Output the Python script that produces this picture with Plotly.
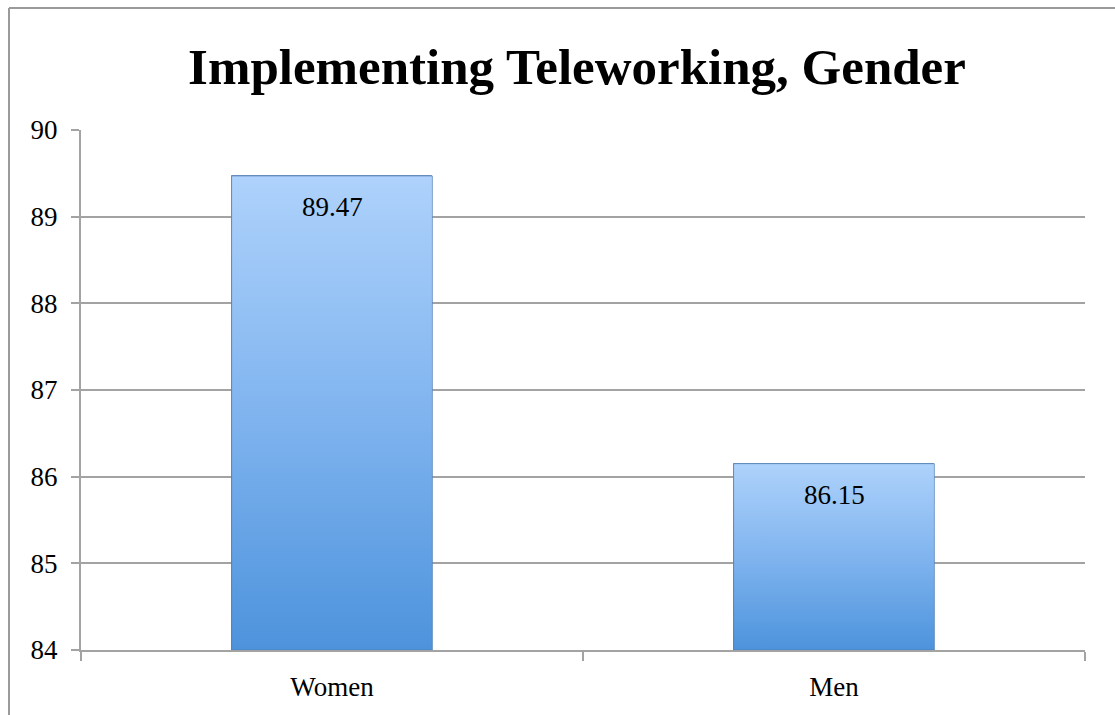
import plotly.graph_objects as go

# Chart data
categories = ["Women", "Men"]
values = [89.47, 86.15]
y_ticks = [84, 85, 86, 87, 88, 89, 90]
title_text = "Implementing Teleworking, Gender"

Y_MIN, Y_MAX = 84, 90
BAR_WIDTH = 0.4
SERIF = "Liberation Serif, Times New Roman, serif"
GRID = "#a3a3a3"
EDGE = "rgba(70,115,170,0.6)"

positions = list(range(len(categories)))

fig = go.Figure()

# Base bars (solid fill, outline); axis range clips them at the baseline
fig.add_trace(go.Bar(
    x=positions, y=values,
    width=BAR_WIDTH,
    marker=dict(color="#7fb2ee", line=dict(color=EDGE, width=1)),
    hoverinfo="skip", showlegend=False,
))

# Vertical gradient overlay for each bar, built from the same values
for pos, val in zip(positions, values):
    x0, x1 = pos - BAR_WIDTH / 2, pos + BAR_WIDTH / 2
    fig.add_trace(go.Scatter(
        x=[x0, x0, x1, x1, x0], y=[Y_MIN, val, val, Y_MIN, Y_MIN],
        mode="lines", fill="toself",
        line=dict(color=EDGE, width=1),
        fillgradient=dict(
            type="vertical",
            colorscale=[[0, "#4d93dc"], [0.5, "#80b4ef"], [1, "#aed2fb"]],
            start=Y_MIN, stop=val,
        ),
        hoverinfo="skip", showlegend=False,
    ))

# Value labels inside the top of each bar
for pos, val in zip(positions, values):
    fig.add_annotation(
        x=pos, y=val, text=f"{val:.2f}", showarrow=False,
        yanchor="top", yshift=-14,
        font=dict(family=SERIF, size=27, color="#000000"),
    )

fig.update_layout(
    width=1115, height=715,
    margin=dict(l=81, r=30, t=130, b=65),
    paper_bgcolor="white", plot_bgcolor="white",
    bargap=0,
    title=dict(
        text=f"<b>{title_text}</b>",
        x=577 / 1115, xref="container", xanchor="center",
        y=1 - 66 / 715, yref="container", yanchor="middle",
        font=dict(family=SERIF, size=51, color="#000000"),
    ),
    xaxis=dict(
        range=[-0.5, len(categories) - 0.5],
        tickvals=positions, ticktext=categories,
        ticks="", showgrid=False, zeroline=False,
        showline=True, linecolor=GRID, linewidth=2,
        tickfont=dict(family=SERIF, size=27, color="#000000"),
        ticklabelstandoff=12,
        minor=dict(tick0=-0.5, dtick=1, ticks="outside", ticklen=9,
                   tickcolor=GRID, tickwidth=2, showgrid=False),
    ),
    yaxis=dict(
        range=[Y_MIN, Y_MAX], tickvals=y_ticks,
        showgrid=True, gridcolor=GRID, gridwidth=2,
        zeroline=False,
        showline=True, linecolor=GRID, linewidth=2,
        ticks="outside", ticklen=8, tickcolor=GRID, tickwidth=2,
        tickfont=dict(family=SERIF, size=27, color="#000000"),
        ticklabelstandoff=8,
    ),
)

# Outer frame: top and left edges of the chart area
px_x = lambda px: (px - 81) / 1004
px_y = lambda py: (650 - py) / 520
fig.add_shape(type="line", xref="paper", yref="paper",
              x0=px_x(9), y0=px_y(8), x1=px_x(1115), y1=px_y(8),
              line=dict(color="#9a9a9a", width=2))
fig.add_shape(type="line", xref="paper", yref="paper",
              x0=px_x(9), y0=px_y(8), x1=px_x(9), y1=px_y(715),
              line=dict(color="#9a9a9a", width=2))

fig.write_html("out.html")
